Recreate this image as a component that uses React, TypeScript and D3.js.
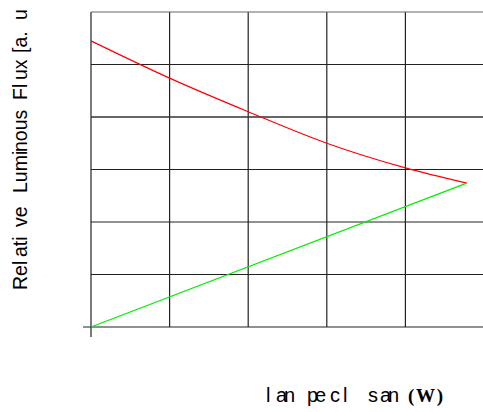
import React, { useEffect, useRef } from 'react';
import * as d3 from 'd3';

// x positions along the power axis (grid units)
const powerSteps = [0, 1, 2, 3, 4, 4.78];
// relative luminous flux
const redFlux = [5.45, 4.74, 4.1, 3.5, 3.03, 2.74];
// green line: straight from origin to the meeting point
const greenX = [0, 4.78];
const greenFlux = [0, 2.74];

const xGrid = [0, 1, 2, 3, 4, 5];
const yGrid = [0, 1, 2, 3, 4, 5, 6];

// label fragments as they render in the original (broken glyph spacing)
const yLabelParts = ['Rel', 'ati', 've', 'Lumi', 'nous', 'Fl', 'ux', '[a.', 'u'];
const yLabelPos = [290, 257, 227, 193, 152, 100, 80, 53, 20];
const xLabelParts = ['l', 'an', 'pe', 'c', 'l', 's', 'an'];
const xLabelPos = [266, 276, 307, 330, 343, 368, 380];
const xLabelUnit = '(W)';

const App = () => {
  const svgRef = useRef<SVGSVGElement>(null);

  useEffect(() => {
    const svg = d3.select(svgRef.current);
    svg.selectAll('*').remove();

    const x = d3.scaleLinear().domain([0, 5]).range([91, 484]);
    const y = d3.scaleLinear().domain([0, 6]).range([327, 12]);

    const g = svg.append('g');

    // vertical grid
    g.selectAll('.vgrid')
      .data(xGrid)
      .enter().append('line')
      .attr('x1', d => x(d))
      .attr('x2', d => x(d))
      .attr('y1', y(6))
      .attr('y2', d => (d === 0 ? y(0) + 10 : y(0)))
      .attr('stroke', '#222')
      .attr('stroke-width', 1.2);

    // horizontal grid
    g.selectAll('.hgrid')
      .data(yGrid)
      .enter().append('line')
      .attr('x1', d => (d === 0 ? 83 : x(0)))
      .attr('x2', 484)
      .attr('y1', d => y(d))
      .attr('y2', d => y(d))
      .attr('stroke', d => (d === 6 ? '#666' : d === 4 ? '#333' : '#222'))
      .attr('stroke-width', d => (d === 4 ? 1.6 : 1.2));

    const line = d3.line<number>()
      .x((d, i) => x(powerSteps[i]))
      .y(d => y(d))
      .curve(d3.curveMonotoneX);

    g.append('path')
      .attr('d', line(redFlux))
      .attr('fill', 'none')
      .attr('stroke', '#ff0000')
      .attr('stroke-width', 1.2);

    const straight = d3.line<number>()
      .x((d, i) => x(greenX[i]))
      .y(d => y(d));

    g.append('path')
      .attr('d', straight(greenFlux))
      .attr('fill', 'none')
      .attr('stroke', '#00ee00')
      .attr('stroke-width', 1.2);

    // y label, rotated; each fragment placed where it sits in the original
    const yl = svg.append('text')
      .attr('transform', 'translate(27,0) rotate(-90)')
      .attr('font-family', 'Liberation Sans, Arial, sans-serif')
      .attr('font-size', 19.5)
      .attr('fill', '#000');
    yl.selectAll('tspan')
      .data(yLabelParts)
      .enter().append('tspan')
      .attr('x', (d, i) => -yLabelPos[i])
      .attr('y', 0)
      .text(d => d);

    const xl = svg.append('text')
      .attr('font-family', 'Liberation Sans, Arial, sans-serif')
      .attr('font-size', 20)
      .attr('fill', '#000');
    xl.selectAll('tspan')
      .data(xLabelParts)
      .enter().append('tspan')
      .attr('x', (d, i) => xLabelPos[i])
      .attr('y', 402)
      .attr('textLength', d => d.length * 9.5)
      .text(d => d);
    xl.append('tspan')
      .attr('x', 408)
      .attr('y', 402)
      .attr('font-family', 'Liberation Serif, Times New Roman, serif')
      .attr('font-weight', 'bold')
      .attr('font-size', 19)
      .attr('textLength', 35)
      .text(xLabelUnit);
  }, []);

  return (
    <svg ref={svgRef} width={483} height={412}
      style={{ position: 'absolute', left: 0, top: 0, background: '#fff' }} />
  );
};

export default App;
